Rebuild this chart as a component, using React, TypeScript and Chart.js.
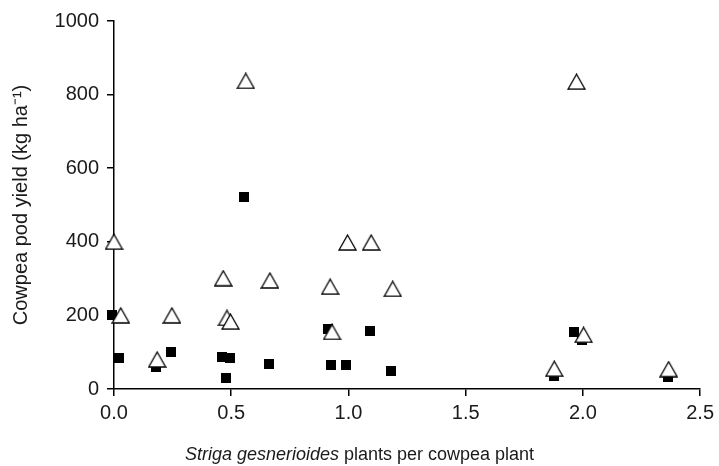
import React, { useEffect, useRef } from "react";
import { Chart, registerables } from "chart.js";

Chart.register(...registerables);

// Open triangles series
const triX = [0.0, 0.562, 1.973, 0.996, 1.097, 0.466, 0.665, 0.922, 1.189, 0.029, 0.247, 0.482, 0.497, 0.93, 2.003, 0.184, 1.878, 2.366];
const triY = [400, 837, 835, 398, 398, 301, 295, 278, 272, 200, 200, 193, 183, 155, 147, 80, 55, 54];

// Filled squares series
const sqX = [-0.01, 0.02, 0.18, 0.244, 0.459, 0.493, 0.478, 0.556, 0.66, 0.914, 0.924, 0.989, 1.091, 1.182, 1.961, 1.996, 1.876, 2.362];
const sqY = [202, 84, 61, 101, 88, 84, 30, 522, 68, 164, 66, 66, 157, 49, 156, 134, 34, 33];

const xTicks = [0, 0.5, 1.0, 1.5, 2.0, 2.5];
const yTicks = [0, 200, 400, 600, 800, 1000];

const yTitle = "Cowpea pod yield (kg ha⁻¹)";
const xTitleItalic = "Striga gesnerioides";
const xTitleRest = " plants per cowpea plant";

const FONT = "'Liberation Sans', Arial, Helvetica, sans-serif";
const TEXT = "#1a1a1a";

function makeTriangle(): HTMLCanvasElement {
  const c = document.createElement("canvas");
  c.width = 19;
  c.height = 17;
  const g = c.getContext("2d")!;
  g.beginPath();
  g.moveTo(9.5, 1);
  g.lineTo(18, 16);
  g.lineTo(1, 16);
  g.closePath();
  g.fillStyle = "#ffffff";
  g.fill();
  g.lineWidth = 1.3;
  g.strokeStyle = "#000000";
  g.stroke();
  return c;
}

function makeSquare(): HTMLCanvasElement {
  const c = document.createElement("canvas");
  c.width = 10;
  c.height = 10;
  const g = c.getContext("2d")!;
  g.fillStyle = "#000000";
  g.fillRect(0, 0, 10, 10);
  return c;
}

const xTitlePlugin = {
  id: "xTitlePlugin",
  afterDraw(chart: any) {
    const ctx = chart.ctx;
    ctx.save();
    ctx.fillStyle = TEXT;
    ctx.textBaseline = "middle";
    ctx.textAlign = "left";
    ctx.font = `italic 18px ${FONT}`;
    const w1 = ctx.measureText(xTitleItalic).width;
    ctx.font = `18px ${FONT}`;
    const w2 = ctx.measureText(xTitleRest).width;
    const cx = chart.width / 2;
    const y = 455;
    let x = cx - (w1 + w2) / 2;
    ctx.font = `italic 18px ${FONT}`;
    ctx.fillText(xTitleItalic, x, y);
    x += w1;
    ctx.font = `18px ${FONT}`;
    ctx.fillText(xTitleRest, x, y);
    ctx.restore();
  },
};

export default function App() {
  const ref = useRef<HTMLCanvasElement | null>(null);

  useEffect(() => {
    document.body.style.margin = "0";
    const canvas = ref.current!;
    const tri = makeTriangle();
    const sq = makeSquare();
    const chart = new Chart(canvas, {
      type: "scatter",
      data: {
        datasets: [
          {
            label: "Open triangles",
            data: triX.map((x, i) => ({ x, y: triY[i] })),
            pointStyle: tri as any,
            pointRadius: 9,
            pointHoverRadius: 9,
            clip: false as any,
          },
          {
            label: "Filled squares",
            data: sqX.map((x, i) => ({ x, y: sqY[i] })),
            pointStyle: sq as any,
            pointRadius: 5,
            pointHoverRadius: 5,
            clip: false as any,
          },
        ],
      },
      options: {
        animation: false,
        responsive: false,
        layout: { padding: { left: 0, right: 17, top: 21, bottom: 0 } },
        plugins: { legend: { display: false }, tooltip: { enabled: false } },
        scales: {
          x: {
            type: "linear",
            min: 0,
            max: 2.5,
            afterFit: (s: any) => {
              s.height = 77;
            },
            afterBuildTicks: (s: any) => {
              s.ticks = xTicks.map((v) => ({ value: v }));
            },
            ticks: {
              font: { family: FONT, size: 20 },
              color: TEXT,
              padding: 5,
              maxRotation: 0,
              callback: (v: any) => Number(v).toFixed(1),
            },
            grid: { display: true, drawOnChartArea: false, drawTicks: true, tickLength: 7, color: "#000", lineWidth: 1.5 },
            border: { display: true, color: "#000", width: 1.5 },
          },
          y: {
            type: "linear",
            min: 0,
            max: 1000,
            afterFit: (s: any) => {
              s.width = 114;
            },
            afterBuildTicks: (s: any) => {
              s.ticks = yTicks.map((v) => ({ value: v }));
            },
            ticks: {
              font: { family: FONT, size: 20 },
              color: TEXT,
              padding: 8,
              callback: (v: any) => String(v),
            },
            title: {
              display: true,
              text: yTitle,
              font: { family: FONT, size: 20 },
              color: TEXT,
              padding: { top: 9, bottom: 0 },
            },
            grid: { display: true, drawOnChartArea: false, drawTicks: true, tickLength: 7, color: "#000", lineWidth: 1.5 },
            border: { display: true, color: "#000", width: 1.5 },
          },
        },
      },
      plugins: [xTitlePlugin],
    });
    return () => chart.destroy();
  }, []);

  return (
    <div style={{ width: 719, height: 466, background: "#fff" }}>
      <canvas ref={ref} width={719} height={466} style={{ display: "block" }} />
    </div>
  );
}
